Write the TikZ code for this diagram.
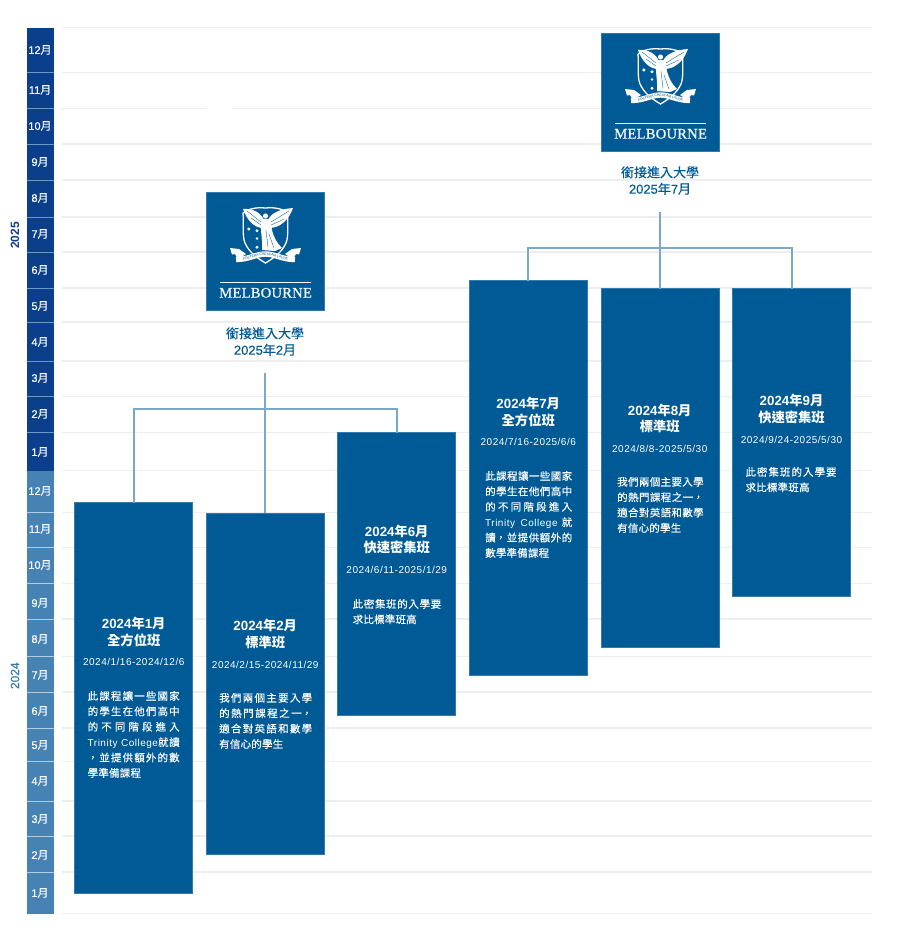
\documentclass[tikz,border=0pt]{standalone}
\usepackage{fontspec}
\usetikzlibrary{decorations.text}
\setmainfont{Noto Sans CJK TC}
\newfontfamily\medcjk[FakeBold=0.3]{Noto Sans CJK TC}
\newfontfamily\lat{Liberation Sans}
\newfontfamily\medlat[FakeBold=0.3]{Liberation Sans}
\newfontfamily\datefont[LetterSpace=5]{Liberation Sans}
\newfontfamily\serifword[LetterSpace=1.5,FakeBold=0.4]{Liberation Serif}
\XeTeXlinebreaklocale "zh"
\XeTeXlinebreakskip=0.2pt plus 3pt
\definecolor{boxblue}{HTML}{005A96}
\definecolor{bandblue}{HTML}{0B3F8C}
\definecolor{bandlight}{HTML}{4682B4}
\definecolor{linkblue}{HTML}{7AA8C9}
\definecolor{gridgray}{HTML}{EEEEEE}
\tikzset{
  gridline/.style={gridgray, line width=1.2pt},
  link/.style={linkblue, line width=2pt},
  course/.style={fill=boxblue, draw=boxblue!80!white, line width=0.5pt, anchor=north west, inner sep=0pt, outer sep=0pt},
  month/.style={white, inner sep=0pt, font=\fontsize{11}{11}\medcjk},
  title/.style={white, align=center, inner sep=0pt, font=\fontsize{13.3}{16.5}\selectfont\bfseries},
  dates/.style={white, inner sep=0pt, font=\fontsize{10}{10}\datefont},
  body/.style={white, anchor=north west, inner sep=0pt, align=justify, font=\fontsize{10.5}{15.4}\medcjk},
  uni/.style={boxblue, align=center, inner sep=0pt, font=\fontsize{13}{16.5}\medcjk},
  crest/.pic={
    % shield
    \draw [white, line width=1.3pt] (37,21) .. controls (42,17) and (50,15) .. (59.5,16) .. controls (69,15) and (77,17) .. (82,21)
      .. controls (81,32) and (83,44) .. (80,51) .. controls (76,60) and (68,66) .. (59.5,71)
      .. controls (51,66) and (43,60) .. (39,51) .. controls (36,44) and (38,32) .. (37,21);
    % wings
    \fill [white] (37,17) .. controls (47,16) and (55,21) .. (58,28) -- (57,36) .. controls (48,36) and (41,28) .. cycle;
    \fill [white] (87,16) .. controls (74,17) and (65,21) .. (62,28) -- (63,36) .. controls (75,36) and (83,27) .. cycle;
    \draw [boxblue, line width=0.35pt] (41,19) -- (55,30) (45,26) -- (55,33) (83,19) -- (65,30) (78,27) -- (65,33);
    % figure
    \fill [white] (59.5,24) circle (2.6);
    \fill [white] (55,27) -- (64,27) -- (66,38) .. controls (68,46) and (71,51) .. (76,56) -- (69,59) -- (56,58) .. controls (57,48) and (54,40) .. cycle;
    \draw [boxblue, line width=0.35pt] (60,38) -- (62,55) (63,42) -- (68,56);
    % stars
    \fill [white] (42.8,37) circle (1.7) (51,38.7) circle (1.6) (51,46.5) circle (1.3) (51,55.3) circle (1.6);
    % scroll
    \fill [white] (24,56) -- (33,57) -- (40,62) -- (32,67) -- (29,62) -- (26,62.5) -- cycle;
    \fill [white] (95,56) -- (86,57) -- (79,62) -- (87,67) -- (90,62) -- (93,62.5) -- cycle;
    \draw [white, line width=5.4pt] (30,67.5) .. controls (43,67.5) and (50,62) .. (59.5,62) .. controls (69,62) and (76,67.5) .. (89,67.5);
    \path [decorate, decoration={text along path, text align=center, raise=-1.1pt,
      text={|\fontsize{3.4}{3.4}\selectfont\lat\color{boxblue}|POSTERA CRESCAM LAUDE}}]
      (30,67.5) .. controls (43,67.5) and (50,62) .. (59.5,62) .. controls (69,62) and (76,67.5) .. (89,67.5);
    % wordmark
    \draw [white, line width=0.5pt] (14,90.3) -- (105.3,90.3);
    \node (-word) [white, inner sep=0pt, font=\fontsize{14.6}{14.6}\serifword] at (59.6,100.8) {MELBOURNE};
  }
}

\begin{document}
\begin{tikzpicture}[x=1pt,y=-1pt]
\useasboundingbox (0,0) rectangle (898,940);

% grid
\foreach \y in {27.5,72.5,144,180,217,252,288,322,361,396.5,432.5,470.7,512.7,547.7,583.7,619,656.7,692,728,761.7,801,836,872,913.5}
  \draw [gridline] (62,\y) -- (872,\y);
\draw [gridline, line width=1pt] (60,108) -- (206,108) (232,108) -- (872,108);

% month band
\fill [bandblue] (27,27.5) rectangle (53.5,470.7);
\fill [bandlight] (27,470.7) rectangle (53.5,913.5);
\foreach \y in {72.5,108,144,180,217,252,288,322,361,396.5,432.5}
  \draw [bandlight!80!white, line width=0.8pt] (27,\y) -- (53.5,\y);
\foreach \y in {512.7,547.7,583.7,619,656.7,692,728,761.7,801,836,872}
  \draw [white!60!bandlight, line width=0.8pt] (27,\y) -- (53.5,\y);
\foreach \m/\lab/\y in {a/12/50,b/11/90,c/10/126,d/9/162,e/8/198,f/7/234,g/6/270,h/5/306,i/4/342,j/3/378,k/2/414,l/1/452,
                        m/12/491,n/11/529,o/10/565,p/9/603,q/8/639,r/7/675,s/6/711,t/5/745,u/4/781,v/3/819,w/2/855,x/1/893}
  \node (\m) [month] at (40,\y) {{\medlat\lab}月};
\node (yearB) [rotate=90, bandblue, inner sep=0pt, font=\fontsize{12}{12}\lat\bfseries] at (15,235.5) {2025};
\node (yearA) [rotate=90, boxblue!80!white, inner sep=0pt, font=\fontsize{12}{12}\medlat] at (15,675.7) {2024};

% course boxes
\node (boxA) [course, minimum width=118pt, minimum height=390.5pt] at (74.5,502.5) {};
\node (boxB) [course, minimum width=118pt, minimum height=341.5pt] at (206,513) {};
\node (boxC) [course, minimum width=118pt, minimum height=282.5pt] at (337.5,432.5) {};
\node (boxD) [course, minimum width=118pt, minimum height=394.5pt] at (469,280.5) {};
\node (boxE) [course, minimum width=118pt, minimum height=359pt] at (601,288.5) {};
\node (boxF) [course, minimum width=118pt, minimum height=308pt] at (732.5,288.5) {};

% logos
\node (logoL) [course, minimum width=118pt, minimum height=118pt] at (206,192) {};
\node (logoR) [course, minimum width=118pt, minimum height=118pt] at (601,33) {};
\pic (crestL) at (206,192) {crest};
\pic (crestR) at (601,33) {crest};
\node (uniL) [uni] at (265,341.5) {銜接進入大學\\{\medlat 2025}年{\medlat 2}月};
\node (uniR) [uni] at (660,180.5) {銜接進入大學\\{\medlat 2025}年{\medlat 7}月};

% connectors
\coordinate (stemL) at (265,373);
\coordinate (barL) at (265,409);
\coordinate (stemR) at (660,212);
\coordinate (barR) at (660,248);
\draw [link] (stemL) -- (boxB.north);
\draw [link] (boxA.north) |- (barL) -| (boxC.north);
\draw [link] (stemR) -- (boxE.north);
\draw [link] (boxD.north) |- (barR) -| (boxF.north);

% texts
\node (titleA) [title] at (133.75,632) {{\lat\bfseries 2024}年{\lat\bfseries 1}月\\全方位班};
\node (dateA) [dates] at (133.75,662) {2024/1/16-2024/12/6};
\node (bodyA) [body, text width=92pt] at (87.5,690.8) {此課程讓一些國家\linebreak 的學生在他們高中\linebreak 的不同階段進入\linebreak {\fontsize{10}{15.4}\datefont Trinity College}就讀\linebreak ，並提供額外的數\linebreak 學準備課程};

\node (titleB) [title] at (265.25,634) {{\lat\bfseries 2024}年{\lat\bfseries 2}月\\標準班};
\node (dateB) [dates] at (265.25,664.5) {2024/2/15-2024/11/29};
\node (bodyB) [body, text width=93pt] at (219,692.8) {我們兩個主要入學\linebreak 的熱門課程之一，\linebreak 適合對英語和數學\linebreak 有信心的學生};

\node (titleC) [title] at (396.75,539.5) {{\lat\bfseries 2024}年{\lat\bfseries 6}月\\快速密集班};
\node (dateC) [dates] at (396.75,569.7) {2024/6/11-2025/1/29};
\node (bodyC) [body, text width=88.5pt] at (352.5,598.8) {此密集班的入學要\linebreak 求比標準班高};

\node (titleD) [title] at (528.25,412) {{\lat\bfseries 2024}年{\lat\bfseries 7}月\\全方位班};
\node (dateD) [dates] at (528.25,442) {2024/7/16-2025/6/6};
\node (bodyD) [body, text width=87pt] at (485,470.8) {此課程讓一些國家\linebreak 的學生在他們高中\linebreak 的不同階段進入\linebreak {\fontsize{10}{15.4}\datefont Trinity College} 就\linebreak 讀，並提供額外的\linebreak 數學準備課程};

\node (titleE) [title] at (659.75,418.5) {{\lat\bfseries 2024}年{\lat\bfseries 8}月\\標準班};
\node (dateE) [dates] at (659.75,448.5) {2024/8/8-2025/5/30};
\node (bodyE) [body, text width=86.5pt] at (617,476.8) {我們兩個主要入學\linebreak 的熱門課程之一，\linebreak 適合對英語和數學\linebreak 有信心的學生};

\node (titleF) [title] at (791.5,409) {{\lat\bfseries 2024}年{\lat\bfseries 9}月\\快速密集班};
\node (dateF) [dates] at (791.5,439.5) {2024/9/24-2025/5/30};
\node (bodyF) [body, text width=91pt] at (745.3,466.8) {此密集班的入學要\linebreak 求比標準班高};
\end{tikzpicture}
\end{document}
